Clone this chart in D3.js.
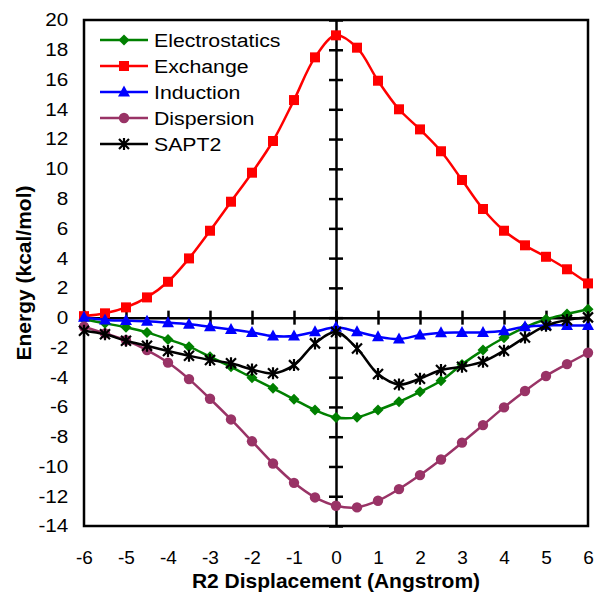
<!DOCTYPE html>
<html>
<head>
<meta charset="utf-8">
<script src="https://cdn.jsdelivr.net/npm/d3@7"></script>
<style>
  html, body { margin: 0; padding: 0; background: #fff; }
  svg { display: block; font-family: "Liberation Sans", Arial, sans-serif; }
</style>
</head>
<body>
<svg id="chart" width="595" height="592"></svg>
<script>
// R2 displacement (Angstrom)
const displacement = [-6, -5.5, -5, -4.5, -4, -3.5, -3, -2.5, -2, -1.5, -1, -0.5, 0,
                      0.5, 1, 1.5, 2, 2.5, 3, 3.5, 4, 4.5, 5, 5.5, 6];

// SAPT energy components (kcal/mol)
const electrostatics = [-0.11, -0.38, -0.65, -0.99, -1.46, -1.95, -2.63, -3.30, -4.04, -4.75, -5.49, -6.21, -6.71,
                        -6.70, -6.21, -5.65, -4.98, -4.24, -3.14, -2.18, -1.35, -0.65, -0.11, 0.24, 0.56];
const exchange = [0.10, 0.29, 0.69, 1.36, 2.41, 3.98, 5.84, 7.79, 9.74, 11.87, 14.62, 17.49, 18.97,
                  18.14, 15.92, 14.00, 12.65, 11.18, 9.25, 7.30, 5.84, 4.86, 4.09, 3.25, 2.30];
const induction = [0.02, -0.16, -0.20, -0.25, -0.34, -0.45, -0.61, -0.79, -0.99, -1.24, -1.24, -0.95, -0.65,
                   -0.95, -1.28, -1.44, -1.17, -1.01, -0.99, -0.99, -0.88, -0.61, -0.52, -0.52, -0.52];
const dispersion = [-0.61, -1.06, -1.52, -2.18, -3.02, -4.13, -5.45, -6.84, -8.31, -9.80, -11.10, -12.08, -12.64,
                    -12.75, -12.30, -11.52, -10.58, -9.53, -8.40, -7.22, -6.03, -4.93, -3.92, -3.12, -2.36];
const sapt2 = [-0.88, -1.12, -1.55, -1.89, -2.24, -2.56, -2.85, -3.07, -3.48, -3.74, -3.19, -1.73, -0.97,
               -2.07, -3.79, -4.49, -4.10, -3.52, -3.30, -2.96, -2.22, -1.33, -0.54, -0.16, 0.02];

const seriesNames = ["Electrostatics", "Exchange", "Induction", "Dispersion", "SAPT2"];
const seriesColors = ["#008000", "#FF0000", "#0000FF", "#993366", "#000000"];
const seriesMarkers = ["diamond", "square", "triangle", "circle", "star"];
const seriesValues = [electrostatics, exchange, induction, dispersion, sapt2];

const xTicks = d3.range(-6, 7, 1);
const yTicks = d3.range(-14, 21, 2);

const svg = d3.select("#chart");
const margin = { left: 84, right: 7, top: 20, bottom: 66 };
const W = 595, H = 592;
const FONT = "Liberation Sans, Arial, sans-serif";
const WIDEN = 1.12;   // slightly widened glyphs for labels
const plain = d => String(d);   // hyphen-minus for negative numbers

const x = d3.scaleLinear().domain([-6, 6]).range([margin.left, W - margin.right]);
const y = d3.scaleLinear().domain([-14, 20]).range([H - margin.bottom, margin.top]);

// plot frame
svg.append("rect")
  .attr("x", x(-6)).attr("y", y(20))
  .attr("width", x(6) - x(-6)).attr("height", y(-14) - y(20))
  .attr("fill", "none").attr("stroke", "#000").attr("stroke-width", 2.5);

// zero axes with crossing tick marks
const xAxis = svg.append("g").attr("transform", `translate(0,${y(0)})`)
  .call(d3.axisBottom(x).tickValues(xTicks).tickSize(0).tickFormat(""));
xAxis.select(".domain").attr("stroke", "#000").attr("stroke-width", 2.5);
xAxis.selectAll(".tick").append("line")
  .attr("y1", -7).attr("y2", 7).attr("stroke", "#000").attr("stroke-width", 2.5);

const yAxis = svg.append("g").attr("transform", `translate(${x(0)},0)`)
  .call(d3.axisLeft(y).tickValues(yTicks).tickSize(0).tickFormat(""));
yAxis.select(".domain").attr("stroke", "#000").attr("stroke-width", 2.5);
yAxis.selectAll(".tick").append("line")
  .attr("x1", -7).attr("x2", 7).attr("stroke", "#000").attr("stroke-width", 2.5);

// tick labels along the low edges of the frame
const xLab = svg.append("g").attr("transform", `translate(0,${y(-14)})`)
  .call(d3.axisBottom(x).tickValues(xTicks).tickSize(0).tickPadding(25).tickFormat(plain));
xLab.select(".domain").remove();
xLab.selectAll("text").attr("font-size", 19).attr("fill", "#000").attr("font-family", FONT);

const yLab = svg.append("g").attr("transform", `translate(${x(-6)},0)`)
  .call(d3.axisLeft(y).tickValues(yTicks).tickSize(0).tickPadding(14).tickFormat(plain));
yLab.select(".domain").remove();
yLab.selectAll("text").attr("font-size", 18.5).attr("fill", "#000").attr("font-family", FONT)
  .attr("transform", `scale(${WIDEN},1)`);

// axis titles
svg.append("text")
  .attr("x", (x(-6) + x(6)) / 2).attr("y", 588)
  .attr("text-anchor", "middle").attr("font-size", 21).attr("font-weight", "bold")
  .text("R2 Displacement (Angstrom)");
svg.append("text")
  .attr("transform", `translate(31,${(y(20) + y(-14)) / 2}) rotate(-90)`)
  .attr("text-anchor", "middle").attr("font-size", 21).attr("font-weight", "bold")
  .text("Energy (kcal/mol)");

// marker shapes
function marker(sel, type, color) {
  if (type === "circle") {
    sel.append("circle").attr("r", 5.2).attr("fill", color);
  } else if (type === "square") {
    sel.append("rect").attr("x", -5).attr("y", -5).attr("width", 10).attr("height", 10).attr("fill", color);
  } else if (type === "diamond") {
    sel.append("path").attr("d", "M0,-5.5L5.5,0L0,5.5L-5.5,0Z").attr("fill", color);
  } else if (type === "triangle") {
    sel.append("path").attr("d", "M0,-6.5L6,4.5L-6,4.5Z").attr("fill", color);
  } else if (type === "star") {
    sel.append("path").attr("d", "M-5,-5L5,5M-5,5L5,-5M0,-6L0,6")
      .attr("stroke", color).attr("stroke-width", 2.2).attr("fill", "none");
  }
}

const line = d3.line()
  .x((d, i) => x(displacement[i]))
  .y(d => y(d))
  .curve(d3.curveCatmullRom.alpha(0.5));

seriesValues.forEach((vals, k) => {
  const g = svg.append("g");
  g.append("path").datum(vals)
    .attr("d", line)
    .attr("fill", "none").attr("stroke", seriesColors[k]).attr("stroke-width", 2.5);
  g.selectAll("g.pt").data(vals).enter().append("g")
    .attr("class", "pt")
    .attr("transform", (d, i) => `translate(${x(displacement[i])},${y(d)})`)
    .each(function () { marker(d3.select(this), seriesMarkers[k], seriesColors[k]); });
});

// legend
const legend = svg.append("g");
seriesNames.forEach((name, k) => {
  const cy = 40 + k * 26;
  const row = legend.append("g").attr("transform", `translate(0,${cy})`);
  row.append("line").attr("x1", 100).attr("x2", 148).attr("y1", 0).attr("y2", 0)
    .attr("stroke", seriesColors[k]).attr("stroke-width", 2.5);
  marker(row.append("g").attr("transform", "translate(124,0)"), seriesMarkers[k], seriesColors[k]);
  row.append("text").attr("transform", `translate(154,7) scale(${WIDEN},1)`)
    .attr("font-size", 19).text(name);
});
</script>
</body>
</html>
